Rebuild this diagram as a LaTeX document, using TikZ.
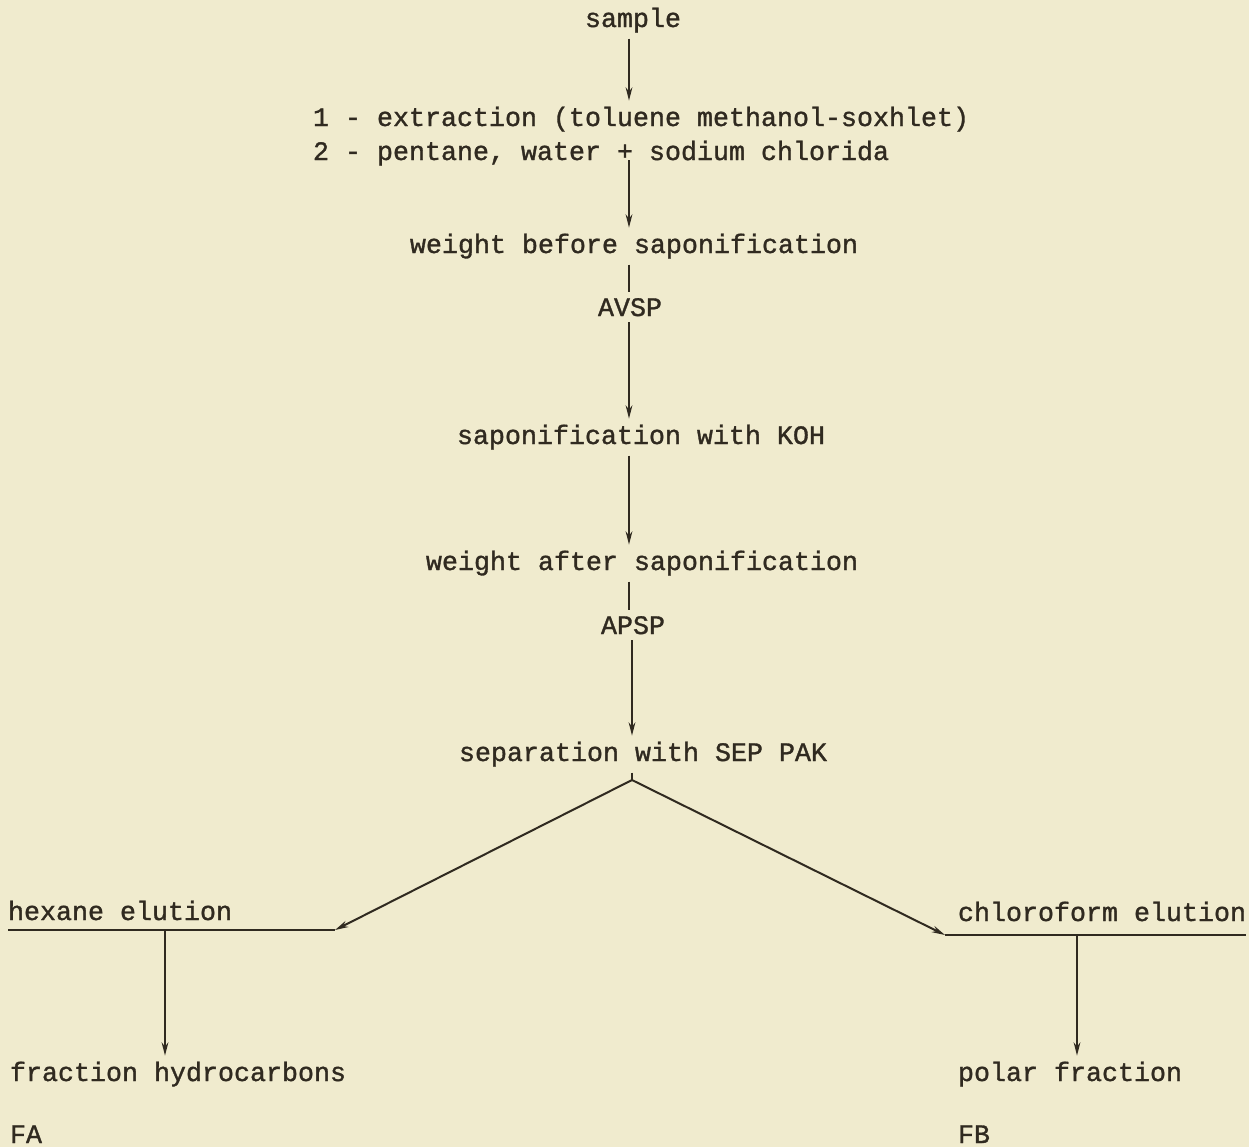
\documentclass[tikz,border=0pt]{standalone}
\usepackage{fontspec}
\setmonofont[FakeBold=1.2,AutoFakeBold=1.2]{Liberation Mono}
\usetikzlibrary{arrows.meta}

\definecolor{paper}{RGB}{240,235,206}
\definecolor{ink}{RGB}{48,42,32}

\tikzset{every picture/.style={line width=1.5pt}}
\tikzset{
  step text/.style={anchor=base,inner sep=3.75pt,text=ink,font=\ttfamily\fontsize{20}{25}\selectfont},
  flow/.style={draw=ink,-{Stealth[length=10pt,width=5pt]}},
  joint/.style={draw=ink}
}

\begin{document}
\begin{tikzpicture}[x=0.75pt,y=0.75pt,yscale=-1,xscale=1]
  % paper
  \fill[paper] (0,0) rectangle (1249,1147);
  \useasboundingbox (0,0) rectangle (1249,1147);

  % Text Node
  \node[step text] (sample) at (633,27) {sample};
  % Text Node
  \node[step text,anchor=base west] (ext1) at (307,126) {1 - extraction (toluene methanol-soxhlet)};
  % Text Node
  \node[step text,anchor=base west] (ext2) at (307,160) {2 - pentane, water + sodium chlorida};
  % Text Node
  \node[step text] (wbs) at (634,253) {weight before saponification};
  % Text Node
  \node[step text] (avsp) at (630,316) {AVSP};
  % Text Node
  \node[step text] (koh) at (641,444) {saponification with KOH};
  % Text Node
  \node[step text] (was) at (642,570) {weight after saponification};
  % Text Node
  \node[step text] (apsp) at (633,634) {APSP};
  % Text Node
  \node[step text] (sep) at (643,761) {separation with SEP PAK};
  % Text Node
  \node[step text,anchor=base west] (hex) at (2,920) {hexane elution};
  % Text Node
  \node[step text,anchor=base west] (chl) at (952,921) {chloroform elution};
  % Text Node
  \node[step text,anchor=base west] (frac) at (4,1081) {fraction hydrocarbons};
  % Text Node
  \node[step text,anchor=base west] (polar) at (952,1081) {polar fraction};
  % Text Node
  \node[step text,anchor=base west] (fa) at (4,1143) {FA};
  % Text Node
  \node[step text,anchor=base west] (fb) at (952,1143) {FB};

  % main column
  \coordinate (spine) at (629,0);
  \coordinate (apex) at (632,780);
  \coordinate (hexL) at (8,930);
  \coordinate (hexR) at (335,930);
  \coordinate (chlL) at (945,935);
  \coordinate (chlR) at (1246,935);
  \coordinate (hexdrop) at (165,930);
  \coordinate (chldrop) at (1077,935);

  %Straight Lines
  \draw[flow] (sample.south -| spine) -- (ext1.north -| spine);
  \draw[flow] (ext2.base -| spine) -- (wbs.north -| spine);
  \draw[joint] (wbs.south -| spine) -- (avsp.north -| spine);
  \draw[flow] (avsp.south -| spine) -- (koh.north -| spine);
  \draw[flow] (koh.south -| spine) -- (was.north -| spine);
  \draw[joint] (was.south -| spine) -- (apsp.north -| spine);
  \draw[flow] (apsp.south -| apex) -- (sep.north -| apex);

  % the split into two elutions
  \draw[joint] (sep.south -| apex) -- (apex);
  \draw[flow] (apex) -- (hexR);
  \draw[flow] (apex) -- (chlL);
  \draw[joint] (hexL) -- (hexR);
  \draw[joint] (chlL) -- (chlR);
  \draw[flow] (hexdrop) -- (frac.north -| hexdrop);
  \draw[flow] (chldrop) -- (polar.north -| chldrop);
\end{tikzpicture}
\end{document}
